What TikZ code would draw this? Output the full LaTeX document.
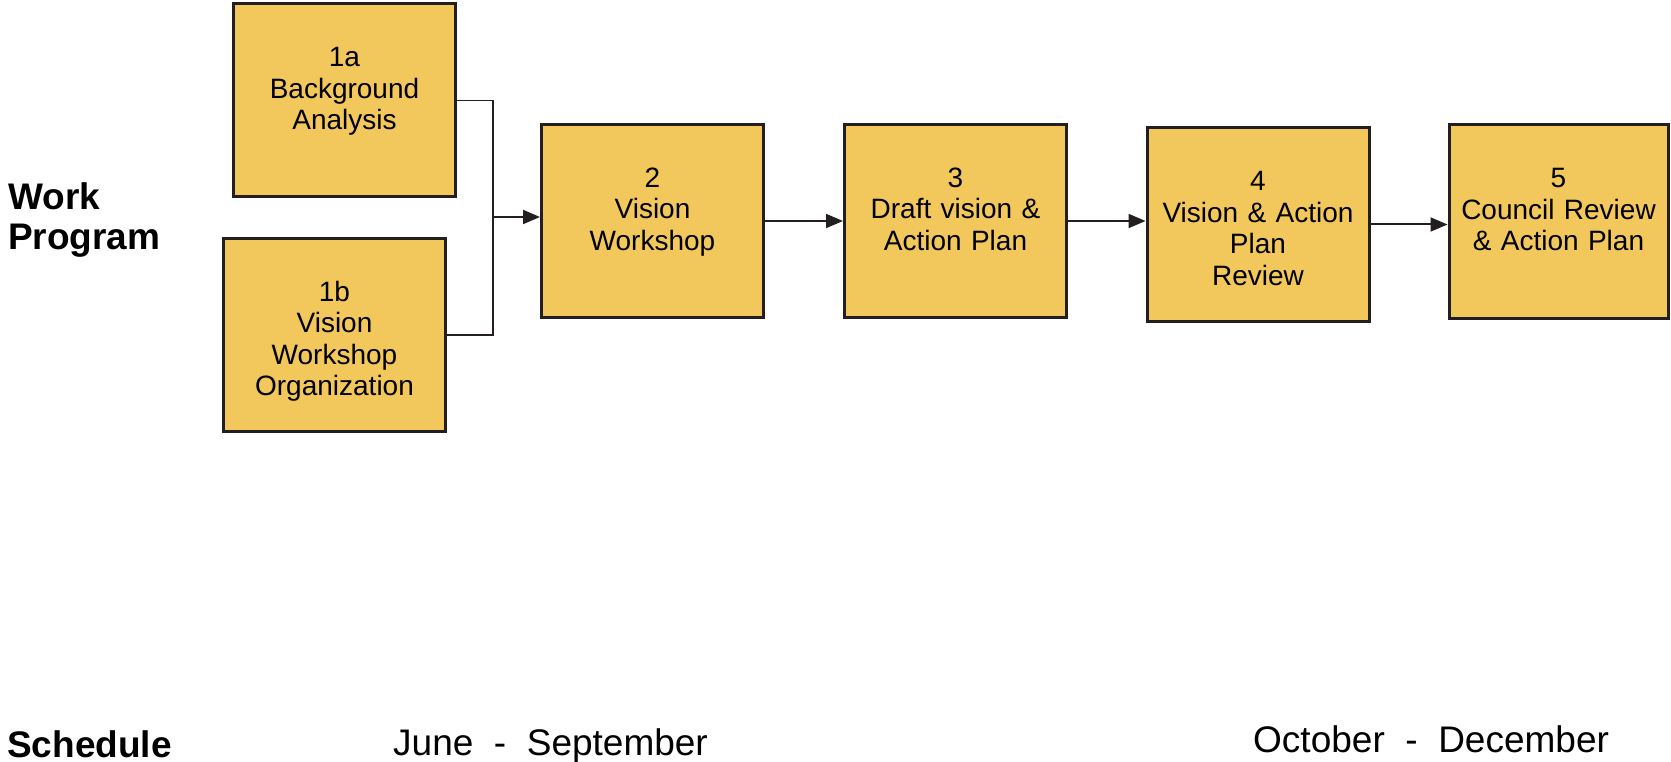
\documentclass[tikz,border=0pt]{standalone}
\usepackage{fontspec}
\setmainfont{Liberation Sans}
\usetikzlibrary{arrows.meta}
\definecolor{stagefill}{RGB}{242,200,92}
\definecolor{inkline}{RGB}{35,31,32}
\tikzset{
  stage/.style={draw=inkline, fill=stagefill, line width=3pt, inner sep=0pt,
    text width=222pt, minimum width=222pt, minimum height=193pt,
    text height=63pt, text depth=130pt, align=center,
    font=\fontsize{28}{31.5}\selectfont},
  flow/.style={draw=inkline, line width=2pt, -{Triangle[length=17pt,width=14pt]}},
  feed/.style={draw=inkline, line width=1.2pt},
  heading/.style={inner sep=0pt, anchor=base west, text width=220pt, align=left,
    font=\fontsize{37}{40}\selectfont\bfseries},
  period/.style={inner sep=0pt, anchor=base west, font=\fontsize{37}{40}\selectfont}
}
\begin{document}
\begin{tikzpicture}[x=1pt,y=-1pt]
    \useasboundingbox (0,0) rectangle (1671,762);
    % work program stages
    \node[stage] (b1a) at (344.5,100.5) {1a\\Background\\Analysis};
    \node[stage] (b1b) at (334.5,335) {1b\\Vision\\Workshop\\Organization};
    \node[stage] (b2) at (652.5,221) {2\\Vision\\Workshop};
    \node[stage] (b3) at (955.5,221) {3\\Draft vision \&\\Action Plan};
    \node[stage] (b4) at (1258,224.5) {4\\Vision \& Action\\Plan\\Review};
    \node[stage, text width=219pt, minimum width=219pt] (b5) at (1558.5,221.5) {5\\Council Review\\\& Action Plan};
    % connectors
    \coordinate (join) at (493,217);
    \draw[feed] (b1a.east) -| (join) |- (b1b.east);
    \draw[flow] (join) -- (join -| b2.west);
    \draw[flow] (b2.east) -- (b2.east -| b3.west);
    \draw[flow] (b3.east) -- (b3.east -| b4.west);
    \draw[flow] (b4.east) -- (b4.east -| b5.west);
    % row labels and schedule
    \node[heading] (work) at (8,210) {Work\\Program};
    \node[heading] (sched) at (7,757) {Schedule};
    \node[period] (early) at (393,755) {June\ \ -\ \ September};
    \node[period] (late) at (1253,752) {October\ \ -\ \ December};
\end{tikzpicture}
\end{document}
